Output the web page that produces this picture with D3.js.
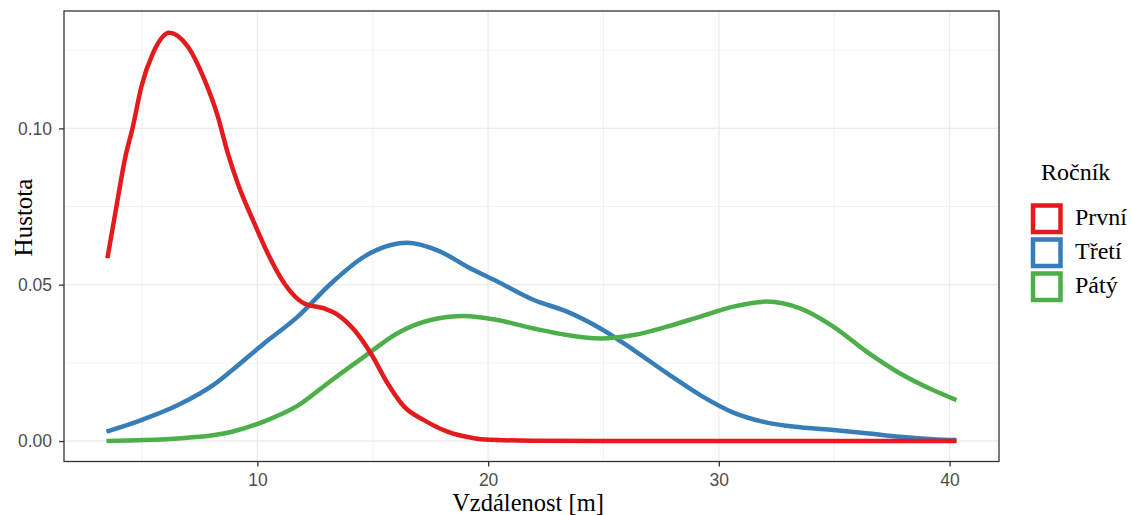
<!DOCTYPE html>
<html><head><meta charset="utf-8">
<script src="https://cdn.jsdelivr.net/npm/d3@7"></script>
<style>body{margin:0;background:#fff}svg{display:block}</style>
</head><body>
<svg id="c" width="1131" height="515"></svg>
<script>
const categories = ["První", "Třetí", "Pátý"];
const colors = ["#e41a1c", "#377eb8", "#4daf4a"];
const xTicks = [10, 20, 30, 40];
const yTicks = [0, 0.05, 0.10];
const xPrvni = [3.5,3.89,4.25,4.61,4.97,5.47,6.19,6.99,7.71,8.29,8.72,9.15,9.87,10.45,11.17,12.03,12.9,13.5,14.2,14.92,15.64,16.36,17.22,18.24,19.39,20.4,22,25,30,35,40.3];
const yPrvni = [0.0585,0.075,0.0899,0.1008,0.1133,0.124,0.1306,0.1261,0.1155,0.1037,0.092,0.0824,0.0696,0.060,0.0504,0.044,0.0424,0.0403,0.0355,0.028,0.0185,0.011,0.0067,0.003,0.0009,0.0003,0.0001,0,0,0,0];
const xTreti = [3.46,4.97,6.56,8.14,8.86,10.3,11.75,13.19,14.63,15.78,16.5,17.8,19.24,20.4,21.98,23.42,24.87,26.31,27.75,29.19,30.63,32.08,33.52,34.96,36.4,37.84,39.28,40.3];
const yTreti = [0.003,0.0067,0.0115,0.0182,0.0224,0.0313,0.0398,0.0504,0.059,0.0627,0.0634,0.061,0.0552,0.051,0.0451,0.0414,0.036,0.0291,0.0217,0.0147,0.0091,0.0059,0.0044,0.0035,0.0025,0.0014,0.0006,0.0003];
const xPaty = [3.46,5.11,6.7,8.14,8.86,10.3,11.75,13.19,14.63,16.07,17.51,18.95,20.4,21.98,23.42,24.87,26.31,27.75,29.19,30.63,32.08,33.52,34.96,36.4,37.84,39.28,40.3];
const yPaty = [0,0.0003,0.0009,0.0019,0.0029,0.0063,0.0113,0.0193,0.027,0.0345,0.0387,0.04,0.0387,0.036,0.0339,0.0328,0.0339,0.0366,0.0398,0.043,0.0446,0.0424,0.0366,0.0286,0.0217,0.0163,0.0131];
const seriesX = [xPrvni, xTreti, xPaty];
const seriesY = [yPrvni, yTreti, yPaty];

const svg = d3.select("#c");
const L = 64, R = 999, T = 11, B = 461.5;
const xDomain = [3.46, 40.3], yMax = 0.131;
const dx = (xDomain[1]-xDomain[0])*0.05;
const x = d3.scaleLinear().domain([xDomain[0]-dx, xDomain[1]+dx]).range([L, R]);
const y = d3.scaleLinear().domain([-yMax*0.05, yMax*1.05]).range([B, T]);

// grid
const g = svg.append("g");
[5,15,25,35].forEach(v => g.append("line").attr("x1",x(v)).attr("x2",x(v)).attr("y1",T).attr("y2",B).attr("stroke","#ebebeb").attr("stroke-width",0.7));
[0.025,0.075,0.125].forEach(v => g.append("line").attr("y1",y(v)).attr("y2",y(v)).attr("x1",L).attr("x2",R).attr("stroke","#ebebeb").attr("stroke-width",0.7));
xTicks.forEach(v => g.append("line").attr("x1",x(v)).attr("x2",x(v)).attr("y1",T).attr("y2",B).attr("stroke","#ebebeb").attr("stroke-width",1.3));
yTicks.forEach(v => g.append("line").attr("y1",y(v)).attr("y2",y(v)).attr("x1",L).attr("x2",R).attr("stroke","#ebebeb").attr("stroke-width",1.3));

// lines
const line = d3.line().x(d=>x(d[0])).y(d=>y(d[1])).curve(d3.curveMonotoneX);
[1,2,0].forEach(i => {
  const pts = seriesX[i].map((v,j)=>[v, seriesY[i][j]]);
  svg.append("path").attr("d", line(pts)).attr("fill","none").attr("stroke",colors[i]).attr("stroke-width",4.5).attr("stroke-linejoin","round");
});

// panel border
svg.append("rect").attr("x",L).attr("y",T).attr("width",R-L).attr("height",B-T).attr("fill","none").attr("stroke","#333").attr("stroke-width",1.3);

// axes
const xAxis = d3.axisBottom(x).tickValues(xTicks).tickFormat(d3.format("d")).tickSize(5).tickPadding(7);
const ax = svg.append("g").attr("transform",`translate(0,${B})`).call(xAxis);
const yAxis = d3.axisLeft(y).tickValues(yTicks).tickFormat(d3.format(".2f")).tickSize(5).tickPadding(7);
const ay = svg.append("g").attr("transform",`translate(${L},0)`).call(yAxis);
[ax, ay].forEach(a => {
  a.select(".domain").remove();
  a.selectAll(".tick line").attr("stroke","#333").attr("stroke-width",1.3);
  a.selectAll(".tick text").attr("fill","#4d4d4d").style("font-family","Liberation Sans, Arial, sans-serif").style("font-size","17.5px");
});

// axis titles
const serif = "Liberation Serif, Times New Roman, serif";
svg.append("text").attr("x",528).attr("y",510.5).attr("text-anchor","middle")
  .style("font-family",serif).style("font-size","24.5px").attr("fill","#000").text("Vzdálenost [m]");
svg.append("text").attr("transform",`translate(32,217.5) rotate(-90)`).attr("text-anchor","middle")
  .style("font-family",serif).style("font-size","25px").attr("fill","#000").text("Hustota");

// legend
const lg = svg.append("g");
lg.append("text").attr("x",1041).attr("y",180).style("font-family",serif).style("font-size","24px").text("Ročník");
categories.forEach((c,i) => {
  const ky = 203.5 + i*34;
  lg.append("rect").attr("x",1033).attr("y",ky+2).attr("width",27.5).attr("height",26.5).attr("fill","#fff").attr("stroke",colors[i]).attr("stroke-width",4.5);
  lg.append("text").attr("x",1075).attr("y",ky+21.5).style("font-family",serif).style("font-size","24px").text(c);
});
</script>
</body></html>
